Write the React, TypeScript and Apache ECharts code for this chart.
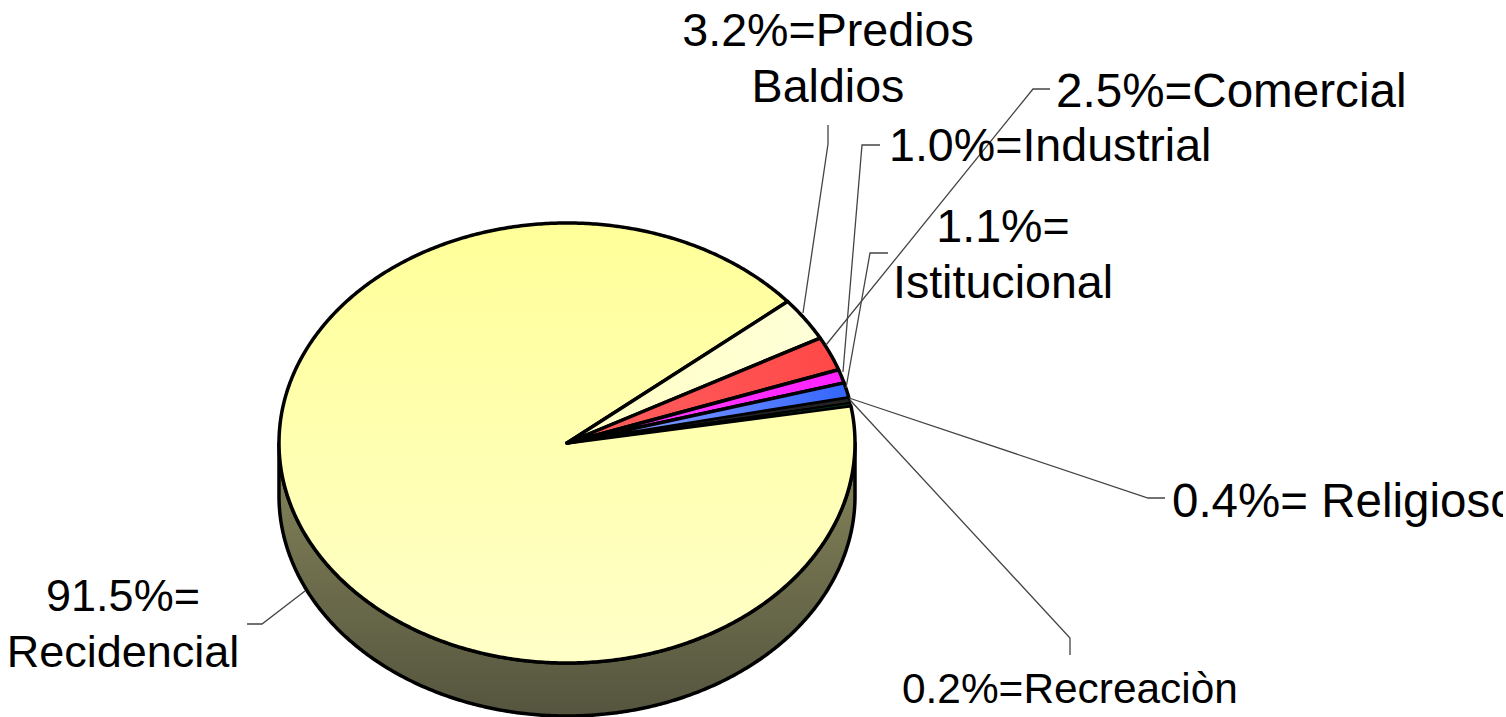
import React, { useEffect, useRef } from "react";
import * as echarts from "echarts";

const categories = ["Predios Baldios", "Comercial", "Industrial", "Istitucional", "Religioso", "Recreaciòn", "Recidencial"];
const shares = [3.2, 2.5, 1.0, 1.1, 0.4, 0.2, 91.5];
const sliceTints = [
  ["#FFFFD8", "#FFFFC4"],
  ["#FF4848", "#FF6060"],
  ["#FF22FF", "#FF44FF"],
  ["#3366FF", "#99AAFF"],
  ["#222222", "#222222"],
  ["#004422", "#004422"],
  ["#FFFF99", "#FFFFC8"],
];

const labelTexts = [
  "3.2%=Predios\nBaldios",
  "2.5%=Comercial",
  "1.0%=Industrial",
  "1.1%=\nIstitucional",
  "0.4%= Religioso",
  "0.2%=Recreaciòn",
  "91.5%=\nRecidencial",
];

const labelLayout = [
  { x: 828, y: 58, align: "center", size: 46.6 },
  { x: 1056, y: 90, align: "left", size: 47.6 },
  { x: 889, y: 145, align: "left", size: 46.6 },
  { x: 1003, y: 254, align: "center", size: 46.6 },
  { x: 1172, y: 500, align: "left", size: 47.5 },
  { x: 902, y: 688, align: "left", size: 42.4 },
  { x: 123, y: 623, align: "center", size: 45 },
];

const leaderPaths = [
  [[828, 125], [828, 144], [803, 313]],
  [[1050, 89], [1033, 89], [826, 345]],
  [[880, 145], [862, 145], [843, 372]],
  [[888, 253], [870, 253], [846, 388]],
  [[849, 398], [1148, 498], [1165, 498]],
  [[850, 400], [1070, 638], [1070, 655]],
  [[305, 591], [262, 624], [247, 624]],
];

const CX = 567;
const CY = 443;
const RX = 288;
const RY = 220;
const DEPTH = 53;
const START_DEG = 40;
const STEP_DEG = 0.5;

const total = shares.reduce((a, b) => a + b, 0);

function ellipsePoint(deg: number, dy = 0): number[] {
  const r = (deg * Math.PI) / 180;
  return [CX + RX * Math.cos(r), CY + dy - RY * Math.sin(r)];
}

function arcPoints(from: number, to: number, dy = 0): number[][] {
  const pts: number[][] = [];
  for (let a = from; a > to; a -= STEP_DEG) pts.push(ellipsePoint(a, dy));
  pts.push(ellipsePoint(to, dy));
  return pts;
}

function sliceRange(index: number): [number, number] {
  let before = 0;
  for (let i = 0; i < index; i++) before += shares[i];
  const from = START_DEG - (before / total) * 360;
  const to = from - (shares[index] / total) * 360;
  return [from, to];
}

function renderSlice(_: any, api: any) {
  const i = api.value(0);
  const [from, to] = sliceRange(i);
  const children: any[] = [];
  // The visible rim is the part of the slice in the front half of the ellipse.
  const rimFrom = Math.min(from, 0);
  const rimTo = Math.max(to, -180);
  if (rimFrom > rimTo) {
    const lower = arcPoints(rimFrom, rimTo, DEPTH);
    const upper = arcPoints(rimFrom, rimTo, 0).reverse();
    children.push({
      type: "polygon",
      shape: { points: [...upper, ...lower] },
      style: {
        fill: new echarts.graphic.LinearGradient(0, 0, 0, 1, [
          { offset: 0, color: "#85855A" },
          { offset: 1, color: "#55553F" },
        ]),
        stroke: "#000",
        lineWidth: 3.5,
        lineJoin: "round",
      },
    });
  }
  const tint = sliceTints[i];
  const horizontalTint = i >= 0 && i <= 3;
  children.push({
    type: "polygon",
    shape: { points: [[CX, CY], ...arcPoints(from, to, 0)] },
    style: {
      fill: horizontalTint
        ? new echarts.graphic.LinearGradient(1, 0, 0, 0, [
            { offset: 0, color: tint[0] },
            { offset: 1, color: tint[1] },
          ])
        : new echarts.graphic.LinearGradient(0, 0, 0, 1, [
            { offset: 0, color: tint[0] },
            { offset: 1, color: tint[1] },
          ]),
      stroke: "#000",
      lineWidth: shares[i] < 1 ? 2 : 3.5,
      lineJoin: "round",
    },
  });
  return { type: "group", children };
}

export default function App() {
  const ref = useRef<HTMLDivElement>(null);
  useEffect(() => {
    document.body.style.margin = "0";
    document.body.style.overflow = "hidden";
    document.body.style.background = "#fff";
    const chart = echarts.init(ref.current!, undefined, { renderer: "svg" });
    const order = [6, 0, 1, 2, 3, 4, 5];
    chart.setOption({
      animation: false,
      backgroundColor: "#fff",
      series: [
        {
          type: "custom",
          coordinateSystem: "none",
          silent: true,
          renderItem: renderSlice,
          data: order.map((i) => ({ name: categories[i], value: [i, shares[i]] })),
          z: 2,
        },
      ],
      graphic: [
        ...leaderPaths.map((points) => ({
          type: "polyline",
          z: 5,
          silent: true,
          shape: { points },
          style: { stroke: "#444", lineWidth: 1.3, fill: "none" },
        })),
        ...labelTexts.map((text, i) => ({
          type: "text",
          z: 6,
          silent: true,
          x: labelLayout[i].x,
          y: labelLayout[i].y,
          style: {
            text,
            fill: "#000",
            font: `${labelLayout[i].size}px "Liberation Sans", Arial, sans-serif`,
            lineHeight: 56,
            align: labelLayout[i].align,
            verticalAlign: "middle",
          },
        })),
      ],
    });
    return () => chart.dispose();
  }, []);
  return <div ref={ref} style={{ width: 1503, height: 717 }} />;
}
